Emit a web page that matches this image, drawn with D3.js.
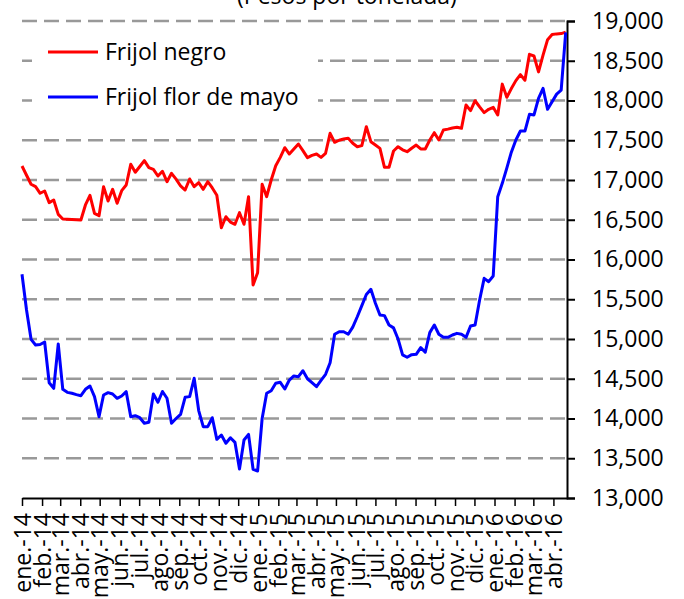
<!DOCTYPE html>
<html lang="es">
<head>
<meta charset="utf-8">
<script src="https://cdn.jsdelivr.net/npm/d3@7"></script>
<style>
  body { margin: 0; background: #fff; }
  svg { display: block; font-family: "Open Sans", sans-serif; }
</style>
</head>
<body>
<svg width="684" height="599"></svg>
<script>
// Datos semanales (pesos por tonelada)
const inicio = new Date(2014, 0, 1);
const fin = new Date(2016, 3, 22);

const frijolNegro = [
  17176, 17060, 16946, 16916, 16833, 16862, 16715, 16748, 16568, 16509,
  16505, 16502, 16500, 16497, 16686, 16808, 16581, 16551, 16916, 16736,
  16883, 16707, 16866, 16937, 17197, 17097, 17170, 17243, 17155, 17134,
  17050, 17110, 16979, 17084, 17010, 16925, 16874, 17013, 16916, 16967,
  16883, 16979, 16900, 16808, 16400, 16538, 16470, 16443, 16589, 16443,
  16790, 15679, 15834, 16946, 16790, 17000, 17180, 17285, 17406, 17327,
  17390, 17453, 17370, 17281, 17310, 17327, 17285, 17336, 17587, 17474,
  17500, 17515, 17525, 17462, 17419, 17432, 17671, 17482, 17440, 17398,
  17159, 17159, 17365, 17419, 17380, 17356, 17400, 17440, 17390, 17390,
  17503, 17595, 17503, 17629, 17640, 17655, 17663, 17650, 17943, 17872,
  17997, 17920, 17847, 17889, 17914, 17818, 18206, 18040, 18150, 18250,
  18325, 18255, 18581, 18560, 18360, 18570, 18765, 18830, 18838, 18842,
  18860
];

const frijolFlorDeMayo = [
  15814, 15365, 14996, 14924, 14930, 14962, 14450, 14380, 14937, 14367,
  14329, 14317, 14300, 14287, 14367, 14409, 14275, 14023, 14296, 14325,
  14308, 14254, 14283, 14337, 14023, 14035, 14010, 13940, 13952, 14308,
  14204, 14340, 14255, 13940, 14000, 14053, 14267, 14275, 14506, 14100,
  13897, 13897, 14010, 13738, 13792, 13688, 13758, 13700, 13365, 13730,
  13801, 13361, 13340, 14000, 14317, 14350, 14443, 14455, 14371, 14484,
  14535, 14526, 14601, 14500, 14450, 14400, 14480, 14556, 14702, 15059,
  15092, 15092, 15060, 15150, 15280, 15420, 15560, 15625, 15449, 15302,
  15294, 15176, 15140, 15000, 14800, 14770, 14803, 14807, 14891, 14833,
  15080, 15176, 15060, 15021, 15021, 15050, 15071, 15059, 15021, 15164,
  15176, 15491, 15763, 15721, 15792, 16790, 16958, 17150, 17350, 17503,
  17616, 17616, 17826, 17818, 18028, 18154, 17889, 17985, 18080, 18130,
  18858
];

const nombresSeries = ["Frijol negro", "Frijol flor de mayo"];
const marcasY = [13000, 13500, 14000, 14500, 15000, 15500, 16000, 16500,
                 17000, 17500, 18000, 18500, 19000];
const meses = ["ene.", "feb.", "mar.", "abr.", "may.", "jun.",
               "jul.", "ago.", "sep.", "oct.", "nov.", "dic."];

const colores = ["#ff0000", "#0000ff"];

const svg = d3.select("svg");
const margin = { top: 21, right: 117, bottom: 101, left: 22 };
const width = +svg.attr("width");
const height = +svg.attr("height");
const innerWidth = width - margin.left - margin.right;
const innerHeight = height - margin.top - margin.bottom;

// fechas semanales
const fechas = frijolNegro.map((d, i) => d3.timeDay.offset(inicio, 7 * i));

const xScale = d3.scaleTime()
  .domain([inicio, fin])
  .range([0, innerWidth]);

const yScale = d3.scaleLinear()
  .domain([13000, 19000])
  .range([innerHeight, 0]);

const g = svg.append("g")
  .attr("transform", `translate(${margin.left},${margin.top})`);

// lineas de cuadricula punteadas
g.selectAll(".grid")
  .data(marcasY.slice(1))
  .enter()
  .append("line")
  .attr("class", "grid")
  .attr("x1", 0)
  .attr("x2", innerWidth)
  .attr("y1", d => yScale(d))
  .attr("y2", d => yScale(d))
  .attr("stroke", "#999")
  .attr("stroke-width", 2.5)
  .attr("stroke-dasharray", "15,7");

// eje derecho
const yAxis = d3.axisRight(yScale)
  .tickValues(marcasY)
  .tickFormat(d3.format(","))
  .tickSize(8)
  .tickPadding(17);

const ejeY = g.append("g")
  .attr("transform", `translate(${innerWidth},0)`)
  .call(yAxis);
ejeY.select(".domain").attr("stroke", "#000").attr("stroke-width", 2);
ejeY.selectAll(".tick line").attr("stroke-width", 2);
ejeY.selectAll("text")
  .attr("font-size", 23)
  .attr("fill", "#000")
  .attr("font-family", "Open Sans, sans-serif");

// eje inferior con meses
const mesesTicks = d3.timeMonth.range(new Date(2014, 0, 1), new Date(2016, 4, 1));
const xAxis = d3.axisBottom(xScale)
  .tickValues(mesesTicks)
  .tickFormat(d => meses[d.getMonth()] + "-" + String(d.getFullYear()).slice(2))
  .tickSize(8)
  .tickSizeOuter(0);

const ejeX = g.append("g")
  .attr("transform", `translate(0,${innerHeight})`)
  .call(xAxis);
ejeX.select(".domain").attr("stroke", "#000").attr("stroke-width", 2);
ejeX.selectAll(".tick line").attr("stroke-width", 1.5);
ejeX.selectAll("text")
  .attr("font-size", 23)
  .attr("fill", "#000")
  .attr("font-family", "Open Sans, sans-serif")
  .attr("transform", "rotate(-90)")
  .attr("text-anchor", "end")
  .attr("x", -15)
  .attr("y", 0)
  .attr("dy", "0.35em");

// lineas de precios
const lineGen = d3.line()
  .x((d, i) => xScale(fechas[i]))
  .y(d => yScale(d));

[frijolNegro, frijolFlorDeMayo].forEach((serie, k) => {
  g.append("path")
    .datum(serie)
    .attr("fill", "none")
    .attr("stroke", colores[k])
    .attr("stroke-width", 3)
    .attr("stroke-linejoin", "round")
    .attr("d", lineGen);
});

// titulo (cortado en la parte superior)
svg.append("text")
  .attr("x", 347)
  .attr("y", 4)
  .attr("text-anchor", "middle")
  .attr("font-size", 23)
  .text("(Pesos por tonelada)");

// leyenda
const leyenda = svg.append("g");
leyenda.append("rect")
  .attr("x", 32)
  .attr("y", 30)
  .attr("width", 286)
  .attr("height", 88)
  .attr("fill", "#fff");

const itemsLeyenda = leyenda.selectAll(".item")
  .data(nombresSeries)
  .enter()
  .append("g")
  .attr("class", "item")
  .attr("transform", (d, i) => `translate(48,${52 + i * 45})`);

itemsLeyenda.append("line")
  .attr("x1", 0)
  .attr("x2", 50)
  .attr("stroke", (d, i) => colores[i])
  .attr("stroke-width", 3);

itemsLeyenda.append("text")
  .attr("x", 57)
  .attr("dy", "0.35em")
  .attr("font-size", 23)
  .text(d => d);
</script>
</body>
</html>
